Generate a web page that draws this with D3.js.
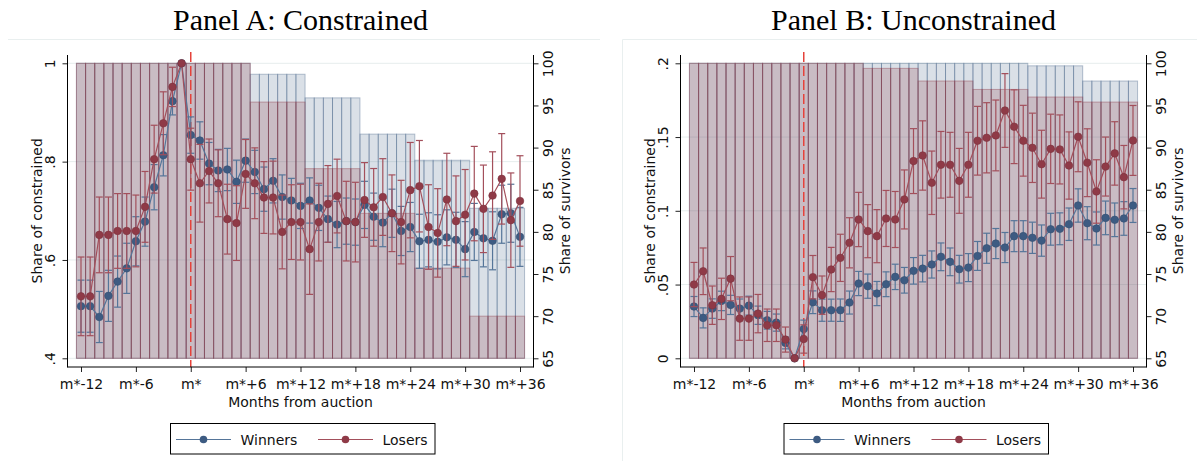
<!DOCTYPE html>
<html>
<head>
<meta charset="utf-8">
<script src="https://cdn.jsdelivr.net/npm/d3@7"></script>
<style>
  body { margin: 0; background: #fff; }
  text { font-family: "DejaVu Sans", sans-serif; fill: #111; font-size: 14px; }
  text.title { font-family: "Liberation Serif", serif; font-size: 30px; fill: #000; }
</style>
</head>
<body>
<svg id="chart" width="1197" height="461"></svg>
<script>
// months relative to auction (m*)
const months = d3.range(-12, 37)
const xTicks = [-12, -6, 0, 6, 12, 18, 24, 30, 36]
const xTickLabels = ["m*-12", "m*-6", "m*", "m*+6", "m*+12", "m*+18", "m*+24", "m*+30", "m*+36"]
const survTicks = [65, 70, 75, 80, 85, 90, 95, 100]

// Panel A: constrained
const winA = [0.506, 0.506, 0.484, 0.527, 0.556, 0.583, 0.638, 0.678, 0.748, 0.813, 0.923, 1.0,
  0.854, 0.843, 0.796, 0.782, 0.784, 0.759, 0.802, 0.779, 0.744, 0.761, 0.728, 0.721, 0.710,
  0.721, 0.706, 0.683, 0.672, 0.679, 0.677, 0.712, 0.688, 0.676, 0.695, 0.659, 0.667,
  0.638, 0.641, 0.637, 0.646, 0.641, 0.622, 0.657, 0.644, 0.639, 0.693, 0.695, 0.647]
const winErrA = [0.053, 0.053, 0.052, 0.052, 0.052, 0.051, 0.050, 0.050, 0.046, 0.042, 0.028, 0,
  0.037, 0.038, 0.043, 0.043, 0.043, 0.044, 0.044, 0.044, 0.045, 0.045, 0.045, 0.045, 0.046,
  0.046, 0.046, 0.047, 0.047, 0.047, 0.047, 0.048, 0.048, 0.049, 0.049, 0.050, 0.050,
  0.055, 0.055, 0.055, 0.056, 0.056, 0.056, 0.058, 0.058, 0.059, 0.059, 0.059, 0.060]
const losA = [0.526, 0.526, 0.651, 0.651, 0.659, 0.659, 0.659, 0.708, 0.805, 0.878, 0.952, 1.0,
  0.805, 0.756, 0.781, 0.756, 0.683, 0.675, 0.775, 0.756, 0.727, 0.727, 0.657, 0.677, 0.677,
  0.622, 0.677, 0.714, 0.730, 0.679, 0.677, 0.722, 0.707, 0.728, 0.695, 0.677, 0.742,
  0.750, 0.667, 0.655, 0.723, 0.679, 0.692, 0.735, 0.704, 0.731, 0.765, 0.681, 0.720]
const losErrA = [0.080, 0.080, 0.077, 0.077, 0.076, 0.076, 0.073, 0.072, 0.069, 0.064, 0.040, 0,
  0.063, 0.079, 0.065, 0.068, 0.071, 0.076, 0.070, 0.072, 0.073, 0.074, 0.075, 0.076, 0.077,
  0.092, 0.079, 0.078, 0.075, 0.081, 0.081, 0.076, 0.079, 0.078, 0.078, 0.085, 0.097,
  0.093, 0.086, 0.090, 0.094, 0.092, 0.092, 0.096, 0.089, 0.089, 0.092, 0.096, 0.092]
const survWinA = [100, 100, 100, 100, 100, 100, 100, 100, 100, 100, 100, 100,
  100, 100, 100, 100, 100, 100, 100, 98.7, 98.7, 98.7, 98.7, 98.7, 98.7,
  95.9, 95.9, 95.9, 95.9, 95.9, 95.9, 91.6, 91.6, 91.6, 91.6, 91.6, 91.6,
  88.5, 88.5, 88.5, 88.5, 88.5, 88.5, 82.8, 82.8, 82.8, 82.8, 82.8, 82.8]
const survLosA = [100, 100, 100, 100, 100, 100, 100, 100, 100, 100, 100, 100,
  100, 100, 100, 100, 100, 100, 100, 95.4, 95.4, 95.4, 95.4, 95.4, 95.4,
  87.5, 87.5, 87.5, 87.5, 87.5, 87.5, 82.2, 82.2, 82.2, 82.2, 82.2, 82.2,
  75.7, 75.7, 75.7, 75.7, 75.7, 75.7, 70.0, 70.0, 70.0, 70.0, 70.0, 70.0]

// Panel B: unconstrained
const winB = [0.0351, 0.0274, 0.0337, 0.0389, 0.0362, 0.0337, 0.0357, 0.0292, 0.0258, 0.0242, 0.0104, 0,
  0.0199, 0.0380, 0.0326, 0.0326, 0.0326, 0.0378, 0.0507, 0.0489, 0.0439, 0.0502, 0.0552, 0.0529, 0.0593,
  0.0608, 0.0636, 0.0688, 0.0654, 0.0604, 0.0615, 0.0694, 0.0746, 0.0778, 0.0751, 0.0828, 0.0828,
  0.0817, 0.0798, 0.0875, 0.0878, 0.0909, 0.1036, 0.0916, 0.0880, 0.0952, 0.0939, 0.0948, 0.1036]
const winErrB = [0.0068, 0.0068, 0.0066, 0.0066, 0.0065, 0.0065, 0.0064, 0.0062, 0.0060, 0.0058, 0.0040, 0,
  0.0060, 0.0077, 0.0075, 0.0075, 0.0076, 0.0078, 0.0082, 0.0082, 0.0082, 0.0084, 0.0086, 0.0087, 0.0090,
  0.0090, 0.0092, 0.0094, 0.0094, 0.0094, 0.0095, 0.0098, 0.0102, 0.0102, 0.0102, 0.0105, 0.0105,
  0.0106, 0.0106, 0.0108, 0.0108, 0.0110, 0.0113, 0.0112, 0.0112, 0.0114, 0.0114, 0.0114, 0.0115]
const losB = [0.0500, 0.0590, 0.0360, 0.0403, 0.0540, 0.0269, 0.0269, 0.0303, 0.0224, 0.0224, 0.0127, 0,
  0.0131, 0.0550, 0.0428, 0.0602, 0.0681, 0.0783, 0.0941, 0.0862, 0.0828, 0.0948, 0.0941, 0.1077, 0.1337,
  0.1375, 0.1190, 0.1312, 0.1312, 0.1203, 0.1312, 0.1475, 0.1495, 0.1511, 0.1680, 0.1570, 0.1475,
  0.1427, 0.1316, 0.1420, 0.1416, 0.1307, 0.1502, 0.1326, 0.1131, 0.1300, 0.1389, 0.1228, 0.1477]
const losErrB = [0.0150, 0.0158, 0.0130, 0.0140, 0.0150, 0.0147, 0.0147, 0.0130, 0.0110, 0.0110, 0.0085, 0,
  0.0096, 0.0147, 0.0130, 0.0150, 0.0160, 0.0170, 0.0184, 0.0180, 0.0180, 0.0190, 0.0190, 0.0200, 0.0220,
  0.0235, 0.0215, 0.0226, 0.0220, 0.0220, 0.0220, 0.0233, 0.0238, 0.0240, 0.0250, 0.0250, 0.0240,
  0.0235, 0.0230, 0.0235, 0.0234, 0.0228, 0.0237, 0.0230, 0.0215, 0.0200, 0.0215, 0.0215, 0.0237]
const survWinB = [100, 100, 100, 100, 100, 100, 100, 100, 100, 100, 100, 100,
  100, 100, 100, 100, 100, 100, 100, 100, 100, 100, 100, 100, 100,
  100, 100, 100, 100, 100, 100, 100, 100, 100, 100, 100, 100,
  99.7, 99.7, 99.7, 99.7, 99.7, 99.7, 97.9, 97.9, 97.9, 97.9, 97.9, 97.9]
const survLosB = [100, 100, 100, 100, 100, 100, 100, 100, 100, 100, 100, 100,
  100, 100, 100, 100, 100, 100, 100, 99.4, 99.4, 99.4, 99.4, 99.4, 99.4,
  97.9, 97.9, 97.9, 97.9, 97.9, 97.9, 96.9, 96.9, 96.9, 96.9, 96.9, 96.9,
  96.0, 96.0, 96.0, 96.0, 96.0, 96.0, 95.4, 95.4, 95.4, 95.4, 95.4, 95.4]

const svg = d3.select("#chart")

const BLUE = "#3d5b82", RED = "#8f3a47"
const BLUE_LN = "#557599", RED_LN = "#a34f5b"
const axTop = 55, axBottom = 367

// faint graph region borders
svg.append("line").attr("x1", 8).attr("x2", 600).attr("y1", 39.5).attr("y2", 39.5)
    .attr("stroke", "#e9efef")
svg.append("line").attr("x1", 622.5).attr("x2", 1197).attr("y1", 39.5).attr("y2", 39.5)
    .attr("stroke", "#e9efef")
svg.append("line").attr("x1", 622.5).attr("x2", 622.5).attr("y1", 39.5).attr("y2", 461)
    .attr("stroke", "#e9efef")

function panel(p) {
  const x = d3.scaleLinear().domain([-12, 36]).range(p.xr)
  const y = d3.scaleLinear().domain(p.yDomain).range([358.3, 63.3])
  const yS = d3.scaleLinear().domain([65, 100]).range([358.3, 63.3])
  const g = svg.append("g")

  g.append("text").attr("class", "title")
      .attr("x", (p.left + p.right) / 2).attr("y", 30)
      .attr("text-anchor", "middle").text(p.title)

  // gridlines
  g.append("g").selectAll("line").data(p.yTicks).join("line")
      .attr("x1", p.left).attr("x2", p.right)
      .attr("y1", d => y(d)).attr("y2", d => y(d))
      .attr("stroke", "#e6eded").attr("stroke-width", 1)

  // survivor bars, winners then losers on top
  function bars(vals, fill, stroke) {
    g.append("g").selectAll("rect").data(months).join("rect")
        .attr("x", m => x(m - 0.5)).attr("width", m => x(m + 0.5) - x(m - 0.5))
        .attr("y", (m, i) => yS(vals[i]))
        .attr("height", (m, i) => yS(65) - yS(vals[i]))
        .attr("fill", fill).attr("stroke", stroke).attr("stroke-width", 1)
  }
  bars(p.survWin, "rgba(61,91,130,0.19)", "rgba(61,91,130,0.36)")
  bars(p.survLos, "rgba(143,58,71,0.22)", "rgba(143,58,71,0.4)")

  // auction month
  g.append("line").attr("x1", x(0)).attr("x2", x(0)).attr("y1", 52).attr("y2", axBottom)
      .attr("stroke", "#e5423b").attr("stroke-width", 1.5).attr("stroke-dasharray", "10,4")

  function series(vals, errs, col, lineCol) {
    const eg = g.append("g").attr("stroke", lineCol).attr("stroke-width", 1.2)
    const sel = eg.selectAll("g").data(months).join("g")
    sel.append("line")
        .attr("x1", m => x(m)).attr("x2", m => x(m))
        .attr("y1", (m, i) => y(vals[i] - errs[i])).attr("y2", (m, i) => y(vals[i] + errs[i]))
    sel.append("line")
        .attr("x1", m => x(m) - 3.5).attr("x2", m => x(m) + 3.5)
        .attr("y1", (m, i) => y(vals[i] - errs[i])).attr("y2", (m, i) => y(vals[i] - errs[i]))
    sel.append("line")
        .attr("x1", m => x(m) - 3.5).attr("x2", m => x(m) + 3.5)
        .attr("y1", (m, i) => y(vals[i] + errs[i])).attr("y2", (m, i) => y(vals[i] + errs[i]))

    const line = d3.line().x(m => x(m)).y((m, i) => y(vals[i]))
    g.append("path").datum(months).attr("d", line)
        .attr("fill", "none").attr("stroke", lineCol).attr("stroke-width", 1.2)
    g.append("g").selectAll("circle").data(months).join("circle")
        .attr("cx", m => x(m)).attr("cy", (m, i) => y(vals[i])).attr("r", 3.8)
        .attr("fill", col).attr("stroke", d3.color(col).darker(0.4)).attr("stroke-width", 0.6)
  }
  series(p.win, p.winErr, BLUE, BLUE_LN)
  series(p.los, p.losErr, RED, RED_LN)

  // axes
  const axL = g.append("g").attr("transform", `translate(${p.left},0)`)
      .call(d3.axisLeft(y).tickValues(p.yTicks).tickFormat((d, i) => p.yLabels[i])
        .tickSize(5).tickSizeOuter(0))
  axL.select(".domain").remove()
  axL.selectAll("text").attr("x", 0).attr("y", 0).attr("dy", 0)
      .attr("text-anchor", "middle").attr("transform", "translate(-12.5,0) rotate(-90)")
      .style("font-size", "14px").style("font-family", "DejaVu Sans")

  const axR = g.append("g").attr("transform", `translate(${p.right},0)`)
      .call(d3.axisRight(yS).tickValues(survTicks).tickSize(5).tickSizeOuter(0))
  axR.select(".domain").remove()
  axR.selectAll("text").attr("x", 0).attr("y", 0).attr("dy", 0)
      .attr("text-anchor", "middle").attr("transform", "translate(19.5,0) rotate(-90)")
      .style("font-size", "14px").style("font-family", "DejaVu Sans")

  const axB = g.append("g").attr("transform", `translate(0,${axBottom})`)
      .call(d3.axisBottom(x).tickValues(xTicks).tickFormat((d, i) => xTickLabels[i])
        .tickSize(5).tickSizeOuter(0))
  axB.select(".domain").remove()
  axB.selectAll("text").attr("y", 0).attr("dy", 0).attr("transform", "translate(0,22)")
      .style("font-size", "14px").style("font-family", "DejaVu Sans")

  g.selectAll(".tick line").attr("stroke", "#222")

  // axis lines
  g.append("line").attr("x1", p.left).attr("x2", p.left).attr("y1", axTop).attr("y2", axBottom + 0.5)
      .attr("stroke", "#000")
  g.append("line").attr("x1", p.right).attr("x2", p.right).attr("y1", axTop).attr("y2", axBottom + 0.5)
      .attr("stroke", "#000")
  g.append("line").attr("x1", p.left).attr("x2", p.right).attr("y1", axBottom).attr("y2", axBottom)
      .attr("stroke", "#000")

  // axis titles
  g.append("text").attr("transform", `translate(${p.left - 25.5},${(63.3 + 358.3) / 2}) rotate(-90)`)
      .attr("text-anchor", "middle").text("Share of constrained")
  g.append("text").attr("transform", `translate(${p.right + 36.5},${(63.3 + 358.3) / 2}) rotate(-90)`)
      .attr("text-anchor", "middle").text("Share of survivors")
  g.append("text").attr("x", (p.left + p.right) / 2).attr("y", 407)
      .attr("text-anchor", "middle").text("Months from auction")

  // legend
  const lg = g.append("g").attr("transform", `translate(${p.legendX},423.5)`)
  lg.append("rect").attr("x", 0).attr("y", 0).attr("width", 264.5).attr("height", 30.5)
      .attr("fill", "#fff").attr("stroke", "#000").attr("stroke-width", 1)
  const items = [["Winners", BLUE, BLUE_LN, 5.5], ["Losers", RED, RED_LN, 147.5]]
  items.forEach(([name, col, lcol, lx]) => {
    lg.append("line").attr("x1", lx).attr("x2", lx + 55).attr("y1", 16).attr("y2", 16)
        .attr("stroke", lcol).attr("stroke-width", 1.2)
    lg.append("circle").attr("cx", lx + 27.5).attr("cy", 16).attr("r", 3.8).attr("fill", col)
    lg.append("text").attr("x", lx + 64.5).attr("y", 21).text(name)
  })
}

panel({
  title: "Panel A: Constrained",
  xr: [81, 520], left: 67.5, right: 533.5, legendX: 170.5,
  yDomain: [0.4, 1], yTicks: [0.4, 0.6, 0.8, 1], yLabels: [".4", ".6", ".8", "1"],
  win: winA, winErr: winErrA, los: losA, losErr: losErrA,
  survWin: survWinA, survLos: survLosA
})

panel({
  title: "Panel B: Unconstrained",
  xr: [694, 1133], left: 680.5, right: 1146.5, legendX: 784,
  yDomain: [0, 0.2], yTicks: [0, 0.05, 0.1, 0.15, 0.2], yLabels: ["0", ".05", ".1", ".15", ".2"],
  win: winB, winErr: winErrB, los: losB, losErr: losErrB,
  survWin: survWinB, survLos: survLosB
})
</script>
</body>
</html>
